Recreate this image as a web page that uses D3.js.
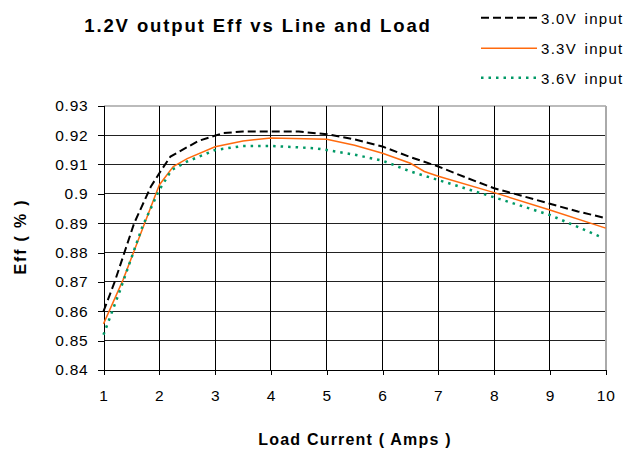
<!DOCTYPE html>
<html><head><meta charset="utf-8">
<script src="https://cdn.jsdelivr.net/npm/d3@7"></script>
<style>body{margin:0;background:#fff}svg{display:block}text{font-family:"Liberation Sans",Arial,sans-serif}</style>
</head><body>
<svg id="c" width="627" height="449"></svg>
<script>
const title = "1.2V output Eff vs Line and Load";
const xTitle = "Load Current ( Amps )";
const yTitle = "Eff ( % )";
const xTicks = [1,2,3,4,5,6,7,8,9,10];
const yTicks = [0.84,0.85,0.86,0.87,0.88,0.89,0.9,0.91,0.92,0.93];
const seriesNames = ["3.0V input","3.3V input","3.6V input"];
const v30 = [[1,0.860],[1.2,0.870],[1.55,0.890],[1.85,0.9025],[2.0,0.907],[2.2,0.9127],[2.7,0.918],[3.15,0.9207],[3.5,0.9212],[4.5,0.9212],[5,0.9203],[5.5,0.9185],[6,0.9161],[6.5,0.9125],[7,0.9093],[7.5,0.9055],[8,0.9019],[8.5,0.8993],[9,0.8966],[9.5,0.894],[10,0.8917]];
const v33 = [[1,0.8557],[1.35,0.8707],[2,0.903],[2.25,0.9093],[2.5,0.912],[3,0.916],[3.5,0.918],[4,0.919],[5,0.9186],[5.5,0.9165],[6,0.9138],[6.5,0.9104],[6.75,0.9076],[7,0.906],[8,0.9004],[9,0.8945],[10,0.8883]];
const v36 = [[1,0.852],[1.3,0.8673],[1.7,0.889],[2,0.9013],[2.22,0.9081],[2.5,0.911],[3,0.9149],[3.5,0.9163],[4,0.9163],[4.8,0.9155],[5,0.9149],[5.5,0.9133],[6,0.9113],[6.5,0.9076],[7,0.9047],[8,0.8988],[9,0.8928],[9.9,0.8854]];

const svg = d3.select("#c");
const L=103.5, R=605.7, T=105.7, B=370;
const x = d3.scaleLinear().domain([1,10]).range([L,R]);
const y = d3.scaleLinear().domain([0.84,0.93]).range([B,T]);

// grid
svg.append("g").selectAll("line").data(yTicks.filter(d=>d>0.84)).join("line")
  .attr("x1",L).attr("x2",R).attr("y1",d=>y(d)).attr("y2",d=>y(d))
  .attr("stroke",d=>d===0.93?"#bbb":"#222").attr("stroke-width",d=>d===0.93?2:1).attr("shape-rendering","crispEdges");
svg.append("g").selectAll("line").data(xTicks.filter(d=>d>1)).join("line")
  .attr("x1",d=>x(d)).attr("x2",d=>x(d)).attr("y1",T).attr("y2",B)
  .attr("stroke",d=>d===10?"#aaa":"#000").attr("stroke-width",d=>d===10?2:1).attr("shape-rendering","crispEdges");

// axes
const xAxis = d3.axisBottom(x).tickValues(xTicks).tickFormat(d3.format("d")).tickSize(5).tickPadding(15);
const yAxis = d3.axisLeft(y).tickValues(yTicks).tickFormat(d=>d3.format(".2f")(d).replace(/0$/,"").replace(/\.$/,"")).tickSize(6).tickPadding(9);
const gx = svg.append("g").attr("transform",`translate(0,${B})`).call(xAxis);
const gy = svg.append("g").attr("transform",`translate(${L},0)`).call(yAxis);
[gx,gy].forEach(g=>{
  g.selectAll("path,line").attr("stroke","#000").attr("shape-rendering","crispEdges");
  g.selectAll("text").attr("font-size",15.5).attr("fill","#000").attr("letter-spacing",0.8).attr("font-family","Liberation Sans, Arial, sans-serif");
});
gx.selectAll("text").attr("dy","0.74em");

// lines
const line = d3.line().x(d=>x(d[0])).y(d=>y(d[1]));
const styles = [
  {data:v30,color:"#000",dash:"8,4",w:2},
  {data:v33,color:"#ff6a0e",dash:null,w:1.5},
  {data:v36,color:"#009966",dash:"2.5,5",w:2.5}
];
styles.forEach(s=>{
  svg.append("path").datum(s.data).attr("d",line).attr("fill","none")
    .attr("stroke",s.color).attr("stroke-width",s.w).attr("stroke-dasharray",s.dash);
});

// legend
const ly=[17.7,48.3,77.7];
styles.forEach((s,i)=>{
  svg.append("line").attr("x1",481).attr("x2",537).attr("y1",ly[i]).attr("y2",ly[i])
    .attr("stroke",s.color).attr("stroke-width",s.w).attr("stroke-dasharray",s.dash);
  svg.append("text").attr("x",541).attr("y",ly[i]+6).attr("font-size",15).attr("letter-spacing",1.3).attr("word-spacing",2).text(seriesNames[i]);
});

// titles
svg.append("text").attr("x",258).attr("y",32).attr("text-anchor","middle").attr("font-size",18.5).attr("letter-spacing",1.9).attr("font-weight","bold").text(title);
svg.append("text").attr("x",355).attr("y",445).attr("text-anchor","middle").attr("font-size",16).attr("letter-spacing",1.2).attr("font-weight","bold").text(xTitle);
svg.append("text").attr("transform","translate(26,236.5) rotate(-90)").attr("text-anchor","middle").attr("font-size",16).attr("letter-spacing",1.8).attr("font-weight","bold").text(yTitle);
</script>
</body></html>
